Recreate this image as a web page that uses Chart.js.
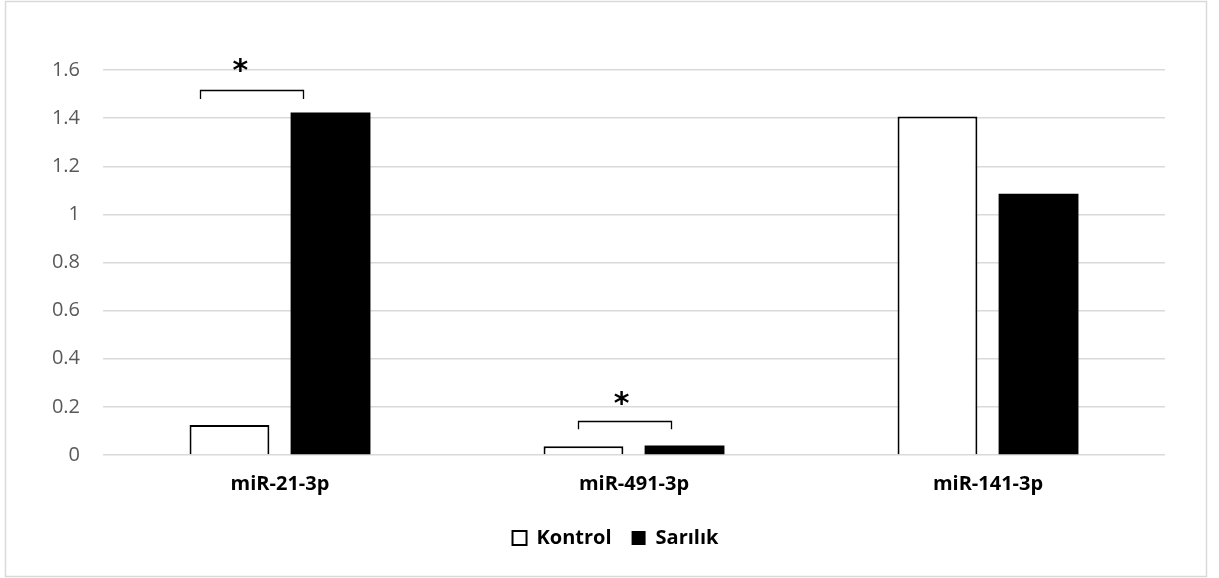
<!DOCTYPE html>
<html>
<head>
<meta charset="utf-8">
<script src="https://cdn.jsdelivr.net/npm/chart.js@4/dist/chart.umd.min.js"></script>
<style>
  html, body { margin: 0; padding: 0; background: #fff; }
  #wrap { width: 1219px; height: 578px; position: relative; }
</style>
</head>
<body>
<div id="wrap"><canvas id="c" width="1219" height="578"></canvas></div>
<script>
// Categories and series
const categories = ['miR-21-3p', 'miR-491-3p', 'miR-141-3p'];
const kontrol = [0.125, 0.036, 1.407];
const sarilik = [1.423, 0.039, 1.086];
const yTicks = [0, 0.2, 0.4, 0.6, 0.8, 1, 1.2, 1.4, 1.6];

// Significance markers (x in category units, y in axis units)
const sigFrom = [-0.227, 0.842];
const sigTo = [0.064, 1.105];
const sigTop = [1.517, 0.143];
const sigLeg = [1.479, 0.107];
const starX = [-0.112, 0.965];
const starY = [1.62, 0.235];

const FONT = '"Open Sans", "Liberation Sans", sans-serif';

const frame = {
  id: 'frame',
  beforeDraw(chart) {
    const ctx = chart.ctx;
    ctx.save();
    ctx.fillStyle = '#fff';
    ctx.fillRect(0, 0, chart.width, chart.height);
    ctx.strokeStyle = '#d9d9d9';
    ctx.lineWidth = 1.5;
    ctx.strokeRect(5.5, 1.5, 1201, 575);
    ctx.restore();
  }
};

// Centre the legend under the whole frame rather than the padded box
const legendShift = {
  id: 'legendShift',
  afterLayout(chart) {
    const lg = chart.legend;
    if (!lg) return;
    lg.left += 33;
    lg.right += 33;
  }
};

const significance = {
  id: 'significance',
  afterDatasetsDraw(chart) {
    const ctx = chart.ctx;
    const x = chart.scales.x, y = chart.scales.y;
    ctx.save();
    ctx.strokeStyle = '#000';
    ctx.lineWidth = 1.3;
    for (let i = 0; i < sigFrom.length; i++) {
      const x0 = Math.round(x.getPixelForValue(sigFrom[i])) + 0.5;
      const x1 = Math.round(x.getPixelForValue(sigTo[i])) + 0.5;
      const yt = Math.round(y.getPixelForValue(sigTop[i])) + 0.5;
      const yl = y.getPixelForValue(sigLeg[i]);
      ctx.beginPath();
      ctx.moveTo(x0, yl);
      ctx.lineTo(x0, yt);
      ctx.lineTo(x1, yt);
      ctx.lineTo(x1, yl);
      ctx.stroke();
    }
    ctx.fillStyle = '#000';
    ctx.font = 'bold 30px "DejaVu Sans", sans-serif';
    ctx.textAlign = 'center';
    ctx.textBaseline = 'alphabetic';
    for (let i = 0; i < starX.length; i++) {
      const m = ctx.measureText('*');
      const cx = x.getPixelForValue(starX[i]);
      const cy = y.getPixelForValue(starY[i]);
      const off = (m.actualBoundingBoxAscent - m.actualBoundingBoxDescent) / 2;
      ctx.fillText('*', cx, cy + off);
    }
    ctx.restore();
  }
};

new Chart(document.getElementById('c'), {
  type: 'bar',
  data: {
    labels: categories,
    datasets: [
      {
        label: 'Kontrol',
        data: kontrol,
        backgroundColor: '#ffffff',
        borderColor: '#000000',
        borderWidth: 2,
        barPercentage: 0.79,
        categoryPercentage: 0.571
      },
      {
        label: 'Sarılık',
        data: sarilik,
        backgroundColor: '#000000',
        borderColor: '#000000',
        borderWidth: 0,
        barPercentage: 0.79,
        categoryPercentage: 0.571
      }
    ]
  },
  options: {
    responsive: false,
    animation: false,
    devicePixelRatio: 1,
    layout: { padding: { left: 0, right: 54, top: 70, bottom: 20 } },
    plugins: {
      legend: {
        position: 'bottom',
        labels: {
          boxWidth: 14,
          boxHeight: 14,
          padding: 20,
          color: '#000',
          font: { family: FONT, size: 20, weight: 'bold' }
        }
      },
      tooltip: { enabled: false }
    },
    scales: {
      x: {
        grid: { display: false, drawTicks: false },
        border: { display: false },
        ticks: {
          padding: 17,
          color: '#000',
          font: { family: FONT, size: 20, weight: 'bold' }
        },
        afterFit(s) { s.height = 53; }
      },
      y: {
        min: 0,
        max: 1.6,
        afterBuildTicks(s) { s.ticks = yTicks.map(v => ({ value: v })); },
        grid: { color: '#d9d9d9', lineWidth: 1.5, drawTicks: false },
        border: { display: false },
        ticks: {
          padding: 23,
          color: '#595959',
          font: { family: FONT, size: 20 },
          callback: v => String(v)
        },
        afterFit(s) { s.width = 103; }
      }
    }
  },
  plugins: [frame, legendShift, significance]
});
</script>
</body>
</html>
